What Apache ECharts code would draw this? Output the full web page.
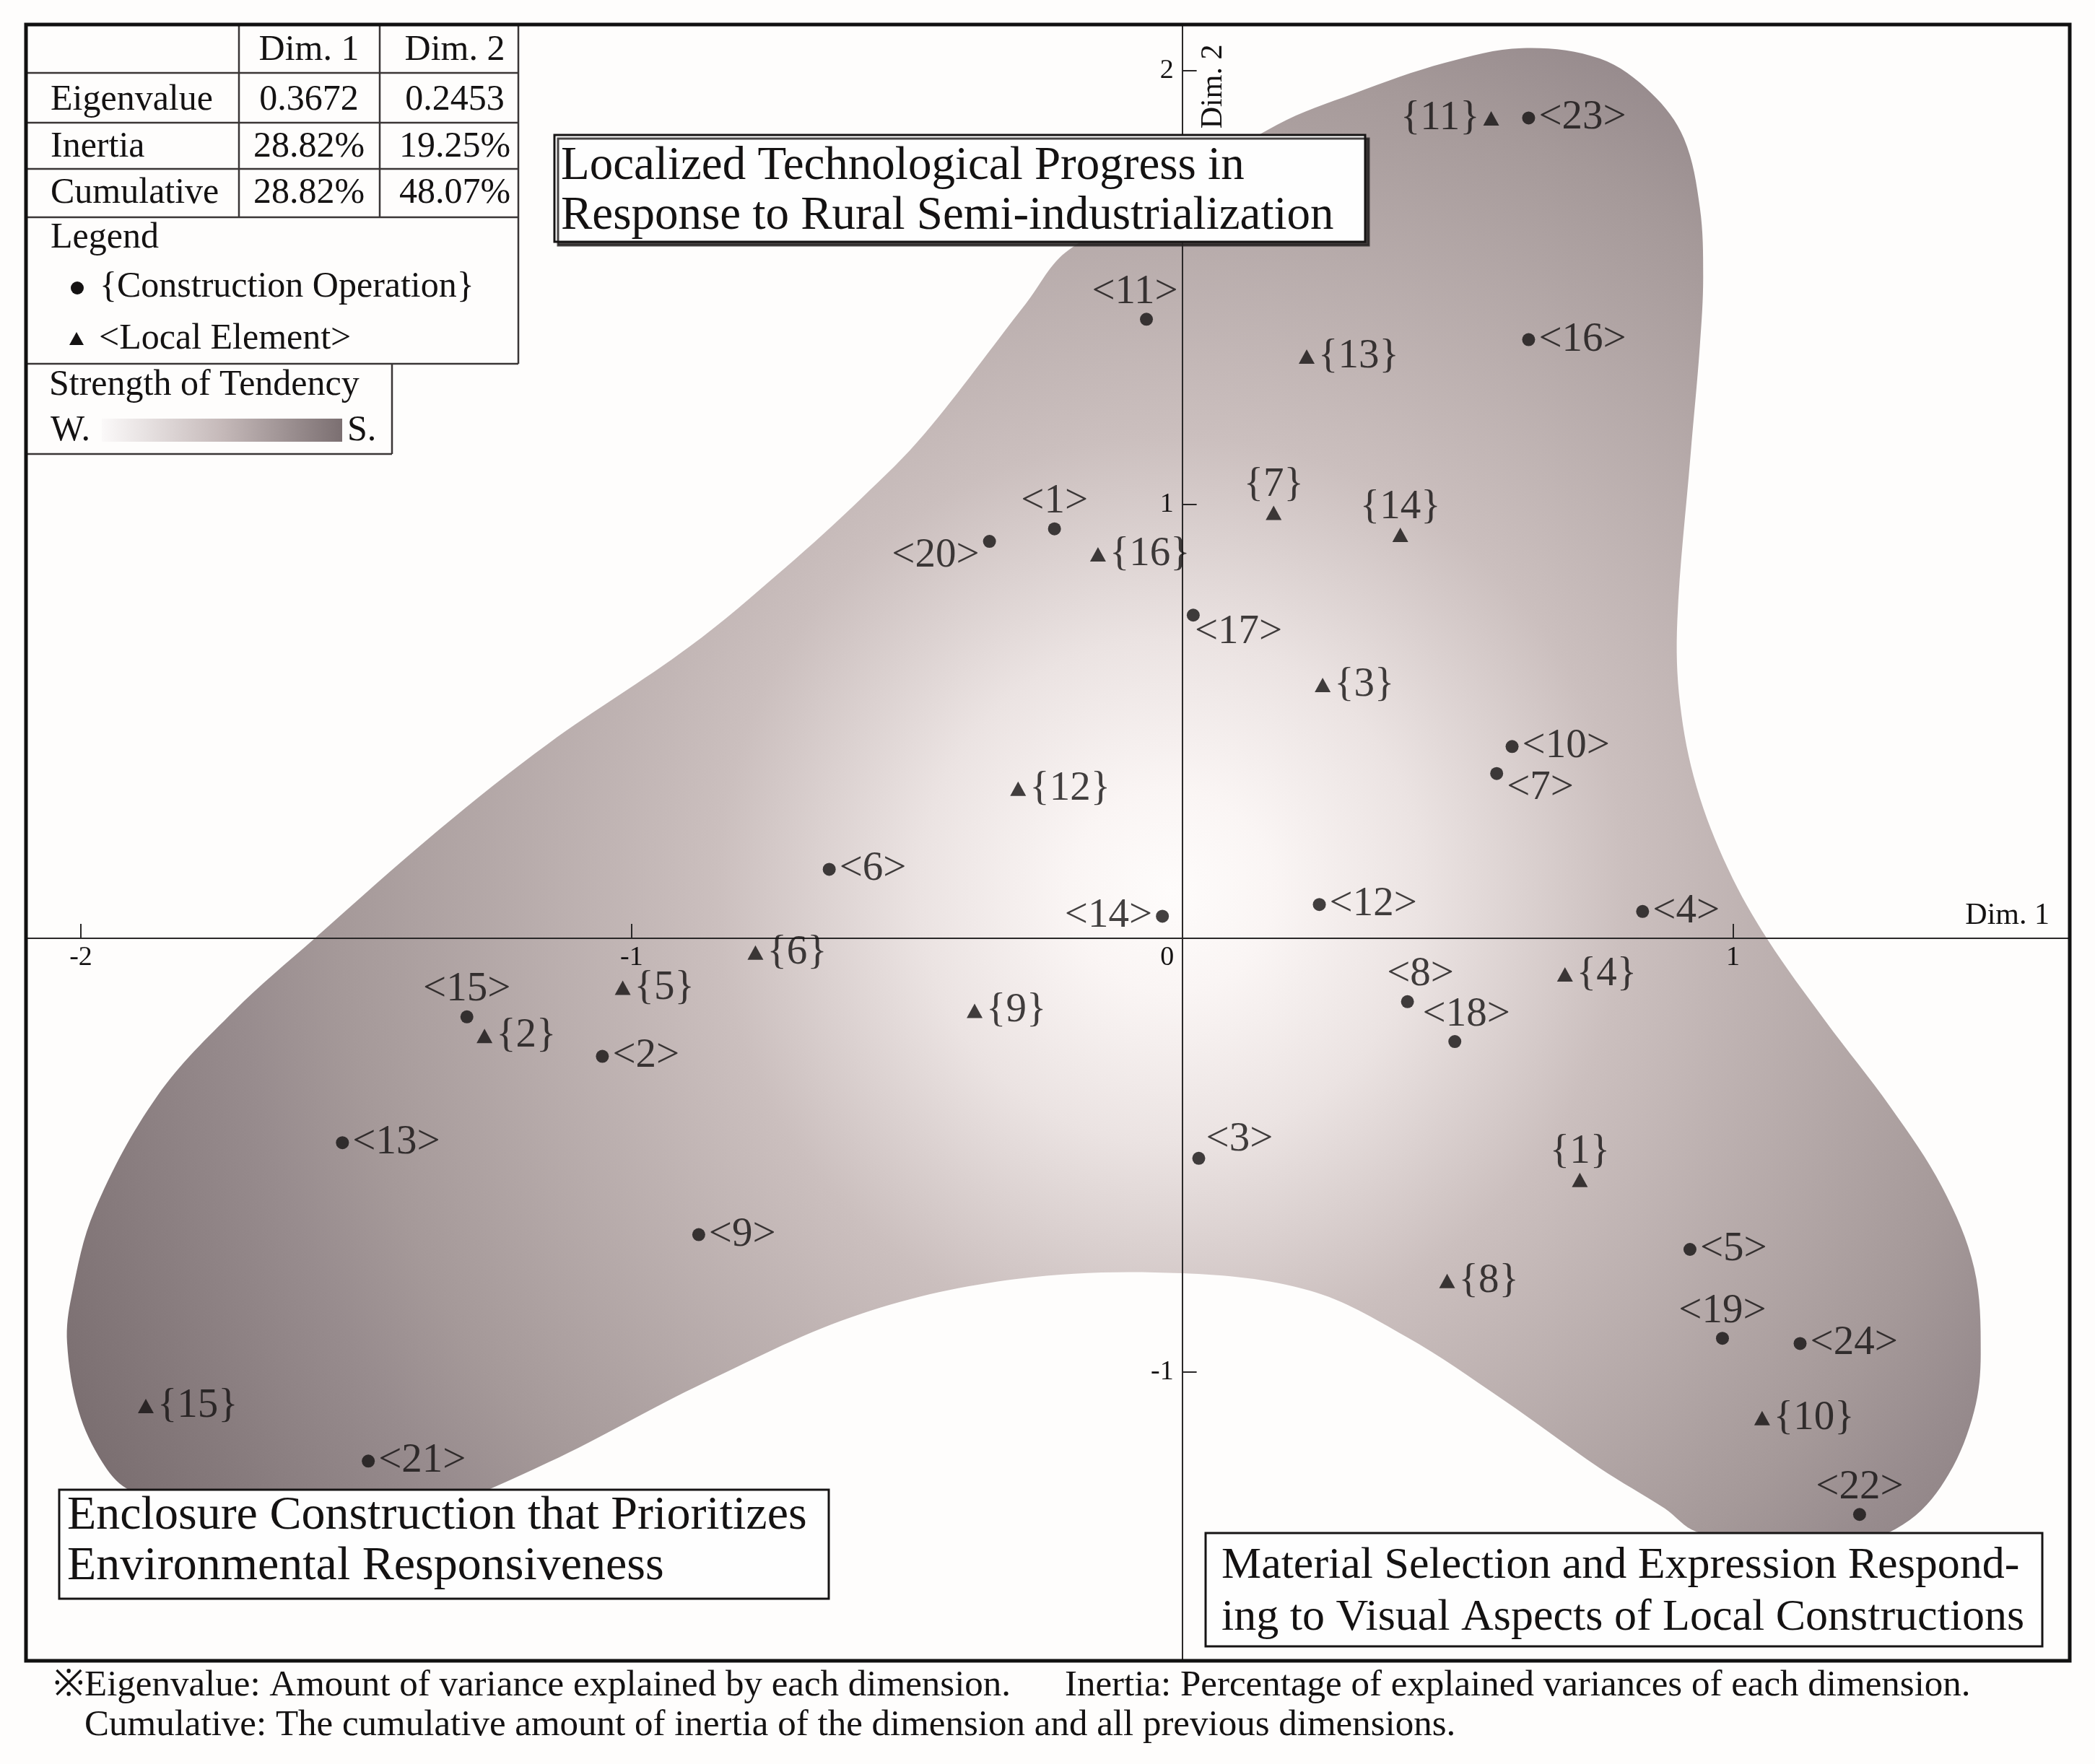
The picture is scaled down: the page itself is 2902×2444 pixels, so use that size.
<!DOCTYPE html>
<html>
<head>
<meta charset="utf-8">
<script src="https://cdn.jsdelivr.net/npm/echarts@6/dist/echarts.min.js"></script>
<style>
html,body{margin:0;padding:0;background:#fefdfc;}
#c{width:2902px;height:2444px;}
</style>
</head>
<body>
<div id="c"></div>
<script>
// ---------- DATA ----------
// Construction operation points (dots)
const opLabels = ['<1>','<2>','<3>','<4>','<5>','<6>','<7>','<8>','<9>','<10>','<11>','<12>','<13>','<14>','<15>','<16>','<17>','<18>','<19>','<20>','<21>','<22>','<23>','<24>'];
const opX = [-0.232,-1.053,0.030,0.836,0.922,-0.641,0.571,0.409,-0.878,0.599,-0.065,0.249,-1.525,-0.036,-1.299,0.629,0.020,0.495,0.981,-0.350,-1.478,1.230,0.629,1.122];
const opY = [0.944,-0.272,-0.507,0.062,-0.717,0.159,0.380,-0.146,-0.683,0.442,1.427,0.078,-0.471,0.051,-0.181,1.380,0.745,-0.238,-0.922,0.915,-1.205,-1.328,1.891,-0.934];
// Local element points (triangles)
const elLabels = ['{1}','{2}','{3}','{4}','{5}','{6}','{7}','{8}','{9}','{10}','{11}','{12}','{13}','{14}','{15}','{16}'];
const elX = [0.722,-1.267,0.255,0.695,-1.016,-0.775,0.166,0.481,-0.377,1.053,0.561,-0.298,0.226,0.396,-1.882,-0.153];
const elY = [-0.557,-0.225,0.584,-0.083,-0.114,-0.033,0.981,-0.790,-0.167,-1.106,1.890,0.345,1.341,0.930,-1.078,0.885];
// axis ranges and ticks
const xRange = [-2.097, 1.609];
const yRange = [-1.662, 2.103];
const xTicks = [-2,-1,0,1];
const yTicks = [2,1,-1];
// tendency region outline (data coordinates)
const blobX = [0.617,0.758,0.852,0.911,0.940,0.946,0.940,0.923,0.899,0.904,0.934,0.992,1.063,1.168,1.286,1.380,1.438,1.450,1.438,1.392,1.321,1.210,1.066,0.934,0.876,0.758,0.582,0.406,0.231,-0.001,-0.298,-0.582,-0.866,-1.151,-1.359,-1.556,-1.779,-1.917,-1.961,-2.004,-2.025,-2.017,-1.975,-1.861,-1.720,-1.577,-1.350,-1.151,-0.895,-0.723,-0.582,-0.468,-0.284,-0.206,0.172,0.313,0.477];
const blobY = [2.052,2.028,1.948,1.844,1.684,1.524,1.366,1.113,0.732,0.541,0.349,0.158,-0.003,-0.191,-0.389,-0.574,-0.760,-0.958,-1.090,-1.235,-1.341,-1.399,-1.391,-1.368,-1.314,-1.221,-1.063,-0.918,-0.812,-0.772,-0.785,-0.865,-1.023,-1.208,-1.316,-1.358,-1.341,-1.268,-1.208,-1.090,-0.932,-0.825,-0.627,-0.363,-0.165,-0.002,0.250,0.449,0.672,0.852,1.015,1.163,1.463,1.587,1.875,1.948,2.018];
const gradCenter = [-0.02, 0.11];
// summary table
const tableHeader = ['Dim. 1','Dim. 2'];
const tableRows = ['Eigenvalue','Inertia','Cumulative'];
const dim1Values = ['0.3672','28.82%','28.82%'];
const dim2Values = ['0.2453','19.25%','48.07%'];
// texts
const quadTitles = [
  ['Localized Technological Progress in','Response to Rural Semi-industrialization'],
  ['Enclosure Construction that Prioritizes','Environmental Responsiveness'],
  ['Material Selection and Expression Respond-','ing to Visual Aspects of Local Constructions']
];
const notes = ['※Eigenvalue: Amount of variance explained by each dimension.','Inertia: Percentage of explained variances of each dimension.','Cumulative: The cumulative amount of inertia of the dimension and all previous dimensions.'];

// label placement (style, not data)
const labelPlace = {'<1>':'top','<8>':'top','<11>':'top','<14>':'left','<15>':'top','<18>':'top','<19>':'top','<20>':'left','<22>':'top','{1}':'top','{7}':'top','{14}':'top','{11}':'left'};
const labelShift = {'<3>':[-4,-26],'<7>':[0,20],'<17>':[-12,24],'<8>':[18,0],'<18>':[16,0],'<11>':[-16,0],'<20>':[0,20]};

// ---------- CHART ----------
const FONT = '"Liberation Serif","DejaVu Serif",serif';
const INK = '#141212';
const W = 2902, H = 2444;
const G = {left:38, right:37, top:36, bottom:145};
const chart = echarts.init(document.getElementById('c'), null, {width:W, height:H});

function lab(name){
  const p = labelPlace[name] || 'right';
  const o = {show:true, formatter:name, position:p, distance: p==='top'?0:5,
    fontFamily:FONT, fontSize:57, color:INK};
  if (labelShift[name]) o.offset = labelShift[name];
  return o;
}
const opData = opLabels.map((n,i)=>({name:n, value:[opX[i],opY[i]], label:lab(n)}));
const elData = elLabels.map((n,i)=>({name:n, value:[elX[i],elY[i]], label:lab(n)}));

const stops = [
  {offset:0, color:'#fefcfb'},
  {offset:0.08, color:'#faf5f4'},
  {offset:0.2, color:'#ebe3e2'},
  {offset:0.36, color:'#cbbfbe'},
  {offset:0.66, color:'#a59999'},
  {offset:0.74, color:'#988c8e'},
  {offset:0.89, color:'#84787a'},
  {offset:1, color:'#766a6c'}
];

// axes cross at zero: shift each axis line to the zero of the other axis
const gridW = W - G.left - G.right, gridH = H - G.top - G.bottom;
const xAxisShift = -gridH * (0 - yRange[0]) / (yRange[1] - yRange[0]);
const yAxisShift = -gridW * (0 - xRange[0]) / (xRange[1] - xRange[0]);

const tick = {show:true, inside:true, length:20, lineStyle:{color:'#2a2828', width:2}};

const tblLine = {stroke:'#3a3636', lineWidth:2.5};
function hLine(y,x1,x2){return {type:'line', z:20, shape:{x1:x1,y1:y,x2:x2,y2:y}, style:tblLine};}
function vLine(x,y1,y2){return {type:'line', z:20, shape:{x1:x,y1:y1,x2:x,y2:y2}, style:tblLine};}
function txt(s,x,y,align,size){return {type:'text', z:21, x:x, y:y, style:{text:s, fontFamily:FONT, fontSize:size||50, fill:INK, align:align||'left', verticalAlign:'middle'}};}

const graphics = [];
graphics.push({type:'rect', z:19, shape:{x:36,y:34,width:682,height:470}, style:{fill:'#fefdfc'}});
graphics.push({type:'rect', z:19, shape:{x:36,y:504,width:507,height:125}, style:{fill:'#fefdfc'}});
[101,170,234,301,504].forEach(y=>graphics.push(hLine(y,36,718)));
graphics.push(hLine(629,36,543));
graphics.push(vLine(331,34,301));
graphics.push(vLine(526,34,301));
graphics.push(vLine(718,34,504));
graphics.push(vLine(543,504,629));
graphics.push(txt(tableHeader[0],428,70,'center'));
graphics.push(txt(tableHeader[1],630,70,'center'));
const rowY = [139,204,268];
tableRows.forEach((r,i)=>{
  graphics.push(txt(r,70,rowY[i],'left'));
  graphics.push(txt(dim1Values[i],428,rowY[i],'center'));
  graphics.push(txt(dim2Values[i],630,rowY[i],'center'));
});
graphics.push(txt('Legend',70,330,'left'));
graphics.push({type:'circle', z:21, shape:{cx:107,cy:399,r:9}, style:{fill:INK}});
graphics.push(txt('{Construction Operation}',138,398,'left'));
graphics.push({type:'polygon', z:21, shape:{points:[[106,460],[96,478],[116,478]]}, style:{fill:INK}});
graphics.push(txt('<Local Element>',137,470,'left'));
graphics.push(txt('Strength of Tendency',68,534,'left'));
graphics.push(txt('W.',70,597,'left'));
graphics.push({type:'rect', z:21, shape:{x:141,y:580,width:333,height:32},
  style:{fill:new echarts.graphic.LinearGradient(0,0,1,0,[{offset:0,color:'#fbf9f9'},{offset:0.5,color:'#c5b9b9'},{offset:1,color:'#7b6f71'}])}});
graphics.push(txt('S.',481,597,'left'));

const boxes = [
  {x:768,y:187,w:1123,h:148,tx:777,ly:[231,300],fs:65,shadow:true},
  {x:82,y:2064,w:1066,h:151,tx:93,ly:[2101,2171],fs:66},
  {x:1670,y:2124,w:1159,h:157,tx:1692,ly:[2170,2242],fs:62}
];
boxes.forEach((b,i)=>{
  const st = {fill:'#fefefe', stroke:'#161414', lineWidth:3};
  if (b.shadow){ st.shadowColor='rgba(40,36,36,0.85)'; st.shadowOffsetX=5; st.shadowOffsetY=5; st.shadowBlur=0; }
  graphics.push({type:'rect', z:20, shape:{x:b.x,y:b.y,width:b.w,height:b.h}, style:st});
  quadTitles[i].forEach((t,j)=>graphics.push({type:'text', z:21, x:b.tx, y:b.ly[j], style:{text:t, fontFamily:FONT, fontSize:b.fs, fill:INK, align:'left', verticalAlign:'middle'}}));
});
graphics.push(txt(notes[0],74,2336,'left',51));
graphics.push(txt(notes[1],1475,2336,'left',51));
graphics.push(txt(notes[2],117,2391,'left',51));
graphics.push({type:'rect', z:30, shape:{x:36,y:34,width:2831,height:2267}, style:{fill:null, stroke:'#111', lineWidth:5}});

const option = {
  backgroundColor:'#fefdfc',
  animation:false,
  grid:{left:G.left, right:G.right, top:G.top, bottom:G.bottom},
  xAxis:{
    type:'value', z:3, min:xRange[0], max:xRange[1], position:'bottom', offset:xAxisShift,
    axisLine:{onZero:false, lineStyle:{color:'#2a2828', width:2}},
    axisTick:Object.assign({customValues:xTicks}, tick),
    splitLine:{show:false},
    name:'Dim. 1', nameLocation:'end', nameGap:-26,
    nameTextStyle:{fontFamily:FONT, fontSize:42, color:INK, align:'right', verticalAlign:'bottom', padding:[0,0,10,0]},
    axisLabel:{customValues:xTicks, fontFamily:FONT, fontSize:38, color:INK, margin:8,
      formatter:function(v){ return v===0 ? '{z|0}' : String(v); },
      rich:{z:{fontFamily:FONT, fontSize:38, color:INK, padding:[0,42,0,0]}}}
  },
  yAxis:{
    type:'value', z:3, min:yRange[0], max:yRange[1], position:'left', offset:yAxisShift,
    axisLine:{onZero:false, lineStyle:{color:'#2a2828', width:2}},
    axisTick:Object.assign({customValues:yTicks}, tick),
    splitLine:{show:false},
    axisLabel:{customValues:yTicks, fontFamily:FONT, fontSize:38, color:INK, margin:12}
  },
  graphic: graphics,
  series:[
    {
      type:'custom', coordinateSystem:'cartesian2d', silent:true, z:1,
      data:[[0,0]],
      renderItem:function(params, api){
        const pts = blobX.map((x,i)=>api.coord([x, blobY[i]]));
        const c = api.coord(gradCenter);
        return {type:'polygon', shape:{points:pts, smooth:0.35},
          style:{fill:new echarts.graphic.RadialGradient(c[0], c[1], 1750, stops, true), stroke:null}};
      }
    },
    {
      type:'scatter', name:'Construction Operation', z:5, symbol:'circle', symbolSize:18,
      itemStyle:{color:INK}, data:opData
    },
    {
      type:'scatter', name:'Local Element', z:5, symbol:'triangle', symbolSize:[22,20],
      itemStyle:{color:INK}, data:elData
    }
  ]
};
chart.setOption(option);

const top2 = chart.convertToPixel({gridIndex:0}, [0, 2]);
chart.setOption({graphic: graphics.concat([{type:'text', z:21, x: top2[0]+43, y: top2[1]+22, rotation: Math.PI/2,
  style:{text:'Dim. 2', fontFamily:FONT, fontSize:42, fill:INK, align:'center', verticalAlign:'middle'}}])});
</script>
</body>
</html>
